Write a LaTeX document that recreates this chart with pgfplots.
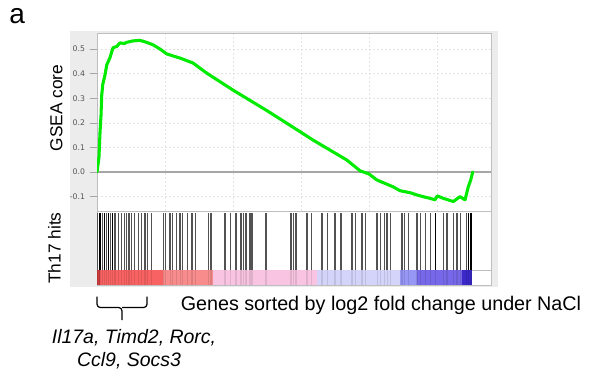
\documentclass[border=0pt]{standalone}
\usepackage{pgfplots}
\usepackage{pgfplotstable}
\pgfplotsset{compat=1.18}
\usepackage{fontspec}
\setmainfont{Liberation Sans}
\newfontfamily\tickfont{DejaVu Sans}
\definecolor{gseagreen}{RGB}{0,235,0}
\definecolor{tickgray}{RGB}{85,85,85}
\definecolor{framegray}{RGB}{190,190,190}
\definecolor{bandgray}{RGB}{236,236,236}
\definecolor{cb1}{RGB}{205,60,60}
\definecolor{cb2}{RGB}{248,98,98}
\definecolor{cb3}{RGB}{248,140,140}
\definecolor{cb4}{RGB}{248,196,226}
\definecolor{cb5}{RGB}{212,212,250}
\definecolor{cb6}{RGB}{150,150,245}
\definecolor{cb7}{RGB}{118,104,232}
\definecolor{cb8}{RGB}{58,40,200}
\pgfplotstableread{
u h
0.010 0.96
0.044 0.96
0.078 0.96
0.107 0.96
0.143 0.96
0.166 0.96
0.196 0.96
0.225 0.96
0.265 0.96
0.313 0.96
0.363 0.96
0.401 0.96
0.437 0.96
0.471 0.96
0.510 0.96
0.549 0.96
0.607 0.96
0.657 0.96
0.706 0.96
0.746 0.96
0.804 0.96
0.975 0.96
1.010 0.96
1.074 0.96
1.107 0.96
1.172 0.96
1.221 0.96
1.254 0.96
1.334 0.96
1.397 0.96
1.449 0.96
1.637 0.96
1.676 0.96
1.882 0.96
1.960 0.96
2.044 0.96
2.118 0.96
2.157 0.96
2.191 0.96
2.240 0.96
2.265 0.96
2.290 0.96
2.485 0.96
2.853 0.96
2.893 0.96
2.926 0.96
3.088 0.96
3.157 0.96
3.309 0.96
3.393 0.96
3.500 0.96
3.588 0.96
3.750 0.96
3.799 0.96
3.897 0.96
3.946 0.96
4.118 0.96
4.166 0.96
4.225 0.96
4.265 0.96
4.313 0.96
4.485 0.96
4.519 0.96
4.584 0.96
4.706 0.96
4.754 0.96
4.828 0.96
4.901 0.96
4.975 0.96
5.099 0.96
5.147 0.96
5.240 0.96
5.294 0.96
5.343 0.96
5.431 0.96
5.466 0.96
5.500 0.96
}\hits
\begin{document}
\begin{tikzpicture}
\useasboundingbox (0,0) rectangle (443.25pt,-284.25pt);
% grey panel background
\fill[bandgray] (52.5pt,-23.25pt) rectangle (373.5pt,-215.6pt);
% ---- top: running enrichment score
\begin{axis}[
  at={(72.75pt,-24.75pt)}, anchor=north west,
  scale only axis, width=295.5pt, height=133.6pt,
  xmin=0, xmax=5.794, ymin=-0.159, ymax=0.565,
  axis background/.style={fill=white},
  xtick={1,2,3,4,5}, xticklabel={},
  ytick={-0.1,0,0.1,0.2,0.3,0.4,0.5}, ytick pos=left,
  yticklabel style={font=\tickfont\fontsize{5.8}{6}\selectfont, text=tickgray,
    /pgf/number format/fixed, /pgf/number format/fixed zerofill,
    /pgf/number format/precision=1, /pgf/number format/assume math mode=true},
  grid=major, grid style={dash pattern=on 1.5pt off 1.5pt, draw=gray!22},
  axis line style={draw=framegray},
  tick align=outside, major tick length=5.5pt,
  ytick style={draw=gray!70},
  xtick style={draw=none},
  clip=true,
]
\addplot[gray!70, line width=0.9pt] coordinates {(0,0) (5.794,0)};
\addplot[gseagreen, line width=2.3pt, line join=round, line cap=round] coordinates {
(0.000,0.000) (0.029,0.060) (0.044,0.160) (0.059,0.230) (0.069,0.310)
(0.084,0.355) (0.118,0.395) (0.143,0.435) (0.191,0.465) (0.235,0.505)
(0.290,0.510) (0.338,0.525) (0.400,0.522) (0.437,0.527) (0.529,0.533)
(0.632,0.535) (0.731,0.527) (0.824,0.517) (0.926,0.500) (1.025,0.480)
(1.221,0.463) (1.412,0.443) (1.613,0.402) (2.000,0.333) (2.496,0.250)
(2.985,0.164) (3.176,0.130) (3.672,0.049) (3.868,0.005) (4.000,-0.008)
(4.113,-0.032) (4.206,-0.043) (4.353,-0.060) (4.456,-0.076) (4.603,-0.084)
(4.701,-0.093) (4.794,-0.100) (4.897,-0.107) (4.971,-0.113) (5.004,-0.097)
(5.093,-0.107) (5.240,-0.120) (5.338,-0.100) (5.412,-0.113) (5.460,-0.060)
(5.496,-0.032) (5.525,0.000)};
\end{axis}
% ---- hits
\begin{axis}[
  at={(72.75pt,-158.25pt)}, anchor=north west,
  scale only axis, width=295.5pt, height=44.25pt,
  xmin=0, xmax=5.794, ymin=0, ymax=1,
  axis background/.style={fill=white},
  xtick=\empty, ytick=\empty,
  axis line style={draw=framegray},
]
\addplot[ycomb, draw=black!68, line width=1.0pt, mark=none] table[x=u, y=h] {\hits};
\addplot[ycomb, draw=black, line width=1.1pt, mark=none] coordinates {(4.975,0.96) (5.466,0.96) (5.500,0.96) (0.044,0.96) (0.107,0.96) (0.166,0.96) (0.225,0.96)};
\end{axis}
% ---- colour bar
\begin{axis}[
  at={(72.75pt,-202.5pt)}, anchor=north west,
  scale only axis, width=295.5pt, height=11.6pt,
  xmin=0, xmax=5.794, ymin=0, ymax=1,
  axis background/.style={fill=white},
  xtick=\empty, ytick=\empty,
  axis line style={draw=framegray},
]
\addplot[fill=cb1, draw=none] coordinates {(0,0) (0,1) (0.044,1) (0.044,0)};
\addplot[fill=cb2, draw=none] coordinates {(0.044,0) (0.044,1) (0.971,1) (0.971,0)};
\addplot[fill=cb3, draw=none] coordinates {(0.971,0) (0.971,1) (1.706,1) (1.706,0)};
\addplot[fill=cb4, draw=none] coordinates {(1.706,0) (1.706,1) (3.235,1) (3.235,0)};
\addplot[fill=cb5, draw=none] coordinates {(3.235,0) (3.235,1) (4.456,1) (4.456,0)};
\addplot[fill=cb6, draw=none] coordinates {(4.456,0) (4.456,1) (4.706,1) (4.706,0)};
\addplot[fill=cb7, draw=none] coordinates {(4.706,0) (4.706,1) (5.368,1) (5.368,0)};
\addplot[fill=cb8, draw=none] coordinates {(5.368,0) (5.368,1) (5.515,1) (5.515,0)};
\addplot[ycomb, draw=black, opacity=0.10, line width=0.8pt, mark=none] table[x=u, y expr=1] {\hits};
\end{axis}
% ---- texts and brace (pixel units)
\begin{scope}[x=0.75pt, y=-0.75pt]
\node[anchor=base west, inner sep=0, font=\fontsize{21}{24}\selectfont] at (9,23) {a};
\node[rotate=90, anchor=center, inner sep=0, font=\fontsize{13}{15}\selectfont] at (56.5,108) {GSEA core};
\node[rotate=90, anchor=center, inner sep=0, font=\fontsize{13}{15}\selectfont] at (54.5,248) {Th17 hits};
\node[anchor=base west, inner sep=0, font=\fontsize{14.8}{17}\selectfont] at (180.5,310) {Genes sorted by log2 fold change under NaCl};
\draw[line width=0.9pt, rounded corners=2.5pt] (97,296.5) |- (122,307.5) -- (122,320);
\draw[line width=0.9pt, rounded corners=2.5pt] (147,296.5) |- (122,307.5);
\node[anchor=base, inner sep=0, font=\itshape\fontsize{14.6}{17}\selectfont] at (134,343) {Il17a, Timd2, Rorc,};
\node[anchor=base, inner sep=0, font=\itshape\fontsize{14.6}{17}\selectfont] at (129,366.7) {Ccl9, Socs3};
\end{scope}
\end{tikzpicture}
\end{document}
